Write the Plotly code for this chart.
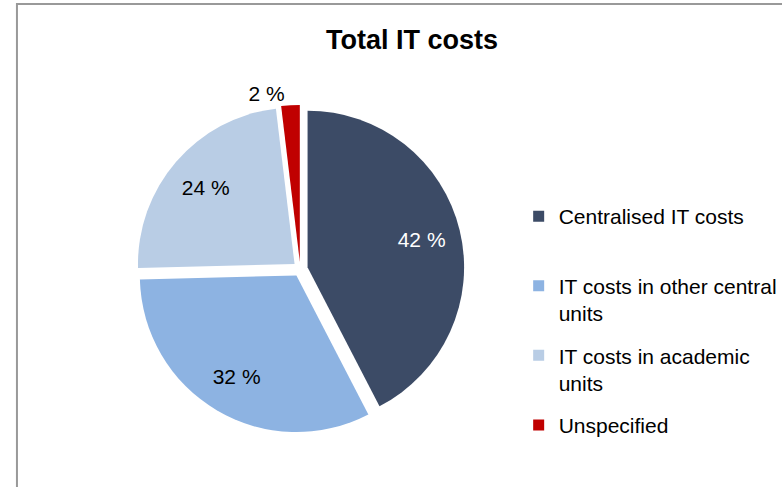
import plotly.graph_objects as go

# ---- data ----
categories = ["Centralised IT costs", "IT costs in other central units",
              "IT costs in academic units", "Unspecified"]
legend_labels = ["Centralised IT costs<br> ", "IT costs in other central<br>units",
                 "IT costs in academic<br>units", "Unspecified<br> "]
shares = [42.4, 32.2, 23.5, 1.9]
colors = ["#3C4B66", "#8DB3E2", "#B9CDE5", "#C00000"]
label_colors = ["#FFFFFF", "#000000", "#000000", "#000000"]
label_positions = ["inside", "inside", "inside", "outside"]
pct_text = [f"{v:.0f} %" for v in shares]

W, H = 782, 487
FONT = "Liberation Sans, Arial, sans-serif"

# pie box (pixels)
cx, cy, half = 301, 269, 164.5
dom_x = [(cx - half) / W, (cx + half) / W]
dom_y = [(H - cy - half) / H, (H - cy + half) / H]
pull = [0.048] * 4

fig = go.Figure()

# solid slices
fig.add_trace(go.Pie(
    labels=categories, values=shares, sort=False, direction="clockwise",
    rotation=0, marker=dict(colors=colors, line=dict(width=0)),
    pull=pull, textinfo="none", showlegend=False, domain=dict(x=dom_x, y=dom_y),
    hoverinfo="label+percent",
))

# transparent ring carrying the labels (places them at ~3/4 radius)
fig.add_trace(go.Pie(
    labels=categories, values=shares, sort=False, direction="clockwise",
    rotation=0, hole=0.5,
    marker=dict(colors=["rgba(0,0,0,0)"] * 4, line=dict(width=0)),
    pull=pull, text=pct_text, textinfo="text", textposition=label_positions,
    insidetextorientation="horizontal",
    textfont=dict(family=FONT, size=21, color=label_colors),
    showlegend=False, domain=dict(x=dom_x, y=dom_y), hoverinfo="skip",
))

# legend entries
for i, (name, col) in enumerate(zip(legend_labels, colors)):
    fig.add_trace(go.Scatter(
        x=[None], y=[None], mode="markers", name=name, legendgroup=str(i),
        marker=dict(symbol="square", size=11, color=col),
        hoverinfo="skip",
    ))

fig.update_layout(
    width=W, height=H,
    margin=dict(l=0, r=0, t=0, b=0),
    paper_bgcolor="white", plot_bgcolor="white",
    xaxis=dict(visible=False), yaxis=dict(visible=False),
    title=dict(text="<b>Total IT costs</b>", x=412 / W, xanchor="center",
               y=1 - 40 / H, yanchor="middle", yref="container",
               font=dict(family=FONT, size=27, color="#000000")),
    legend=dict(x=520 / W, xanchor="left", y=1 - 196 / H, yanchor="top",
                font=dict(family=FONT, size=21, color="#000000"),
                traceorder="grouped", tracegroupgap=12, valign="top",
                bgcolor="rgba(0,0,0,0)", itemclick=False, itemdoubleclick=False),
    shapes=[dict(type="rect", xref="paper", yref="paper",
                 x0=17 / W, x1=1.05, y0=-0.05, y1=1 - 4 / H,
                 line=dict(color="#999999", width=2), fillcolor="rgba(0,0,0,0)")],
)

fig.write_html("out.html",
               config={"displayModeBar": False},
               post_script="document.body.style.margin='0';")
